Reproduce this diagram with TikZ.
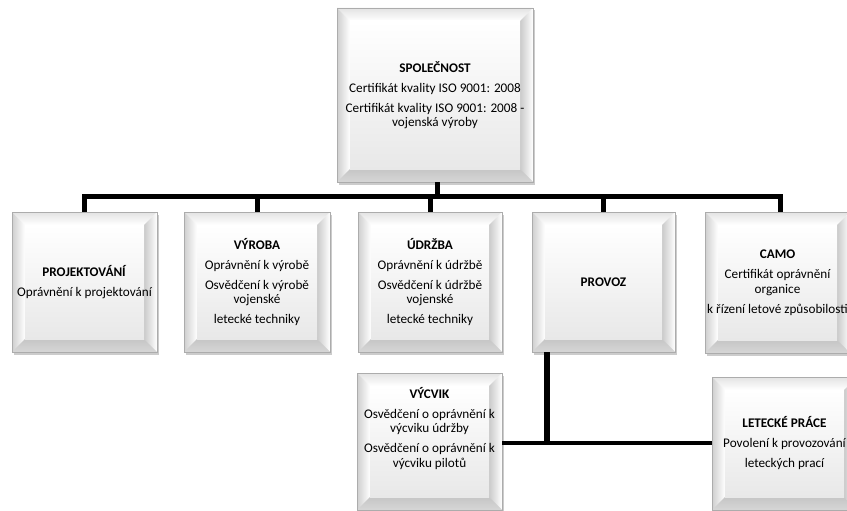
\documentclass[tikz,border=0pt]{standalone}
\usepackage{fontspec}
\setmainfont{Carlito}
\usetikzlibrary{shadows}
\tikzset{
  bevelbox/.style={
    rectangle, inner sep=2pt, align=center, draw=gray!65, line width=0.7pt,
    top color=white, bottom color=gray!28,
    font=\fontsize{13.2}{14.5}\selectfont,
    drop shadow={opacity=0.4, shadow xshift=2pt, shadow yshift=-2.5pt},
    path picture={
      \def\bw{13pt}
      \coordinate (NW) at (path picture bounding box.north west);
      \coordinate (NE) at (path picture bounding box.north east);
      \coordinate (SW) at (path picture bounding box.south west);
      \coordinate (SE) at (path picture bounding box.south east);
      \coordinate (nw) at ([shift={(\bw,-\bw)}]NW);
      \coordinate (ne) at ([shift={(-\bw,-\bw)}]NE);
      \coordinate (sw) at ([shift={(\bw,\bw)}]SW);
      \coordinate (se) at ([shift={(-\bw,\bw)}]SE);
      \shade[top color=gray!22, bottom color=white] (NW) -- (NE) -- (ne) -- (nw) -- cycle;
      \shade[left color=gray!38, right color=white] (NW) -- (nw) -- (sw) -- (SW) -- cycle;
      \shade[left color=gray!42, right color=white] (NE) -- (ne) -- (se) -- (SE) -- cycle;
      \shade[top color=gray!45, bottom color=gray!32] (SW) -- (sw) -- (se) -- (SE) -- cycle;
      \shade[top color=white, bottom color=gray!18] (nw) rectangle (se);
    }},
  busline/.style={line width=5pt, black},
  thinbus/.style={line width=4pt, black}
}
\begin{document}
\begin{tikzpicture}[x=1pt,y=-1pt]
\useasboundingbox (0,0) rectangle (847,511);
\fill[white] (0,0) rectangle (847,511);

\node[bevelbox, minimum width=196pt, minimum height=174pt] (spol) at (435,95)
  {\textbf{SPOLEČNOST}\\[5.5pt]Certifikát kvality ISO 9001: 2008\\[5.5pt]Certifikát kvality ISO 9001: 2008 -\\vojenská výroby};

\node[bevelbox, minimum width=145pt, minimum height=140pt] (proj) at (84.5,282)
  {\textbf{PROJEKTOVÁNÍ}\\[5.5pt]Oprávnění k projektování};
\node[bevelbox, minimum width=146pt, minimum height=140pt] (vyr) at (257,282)
  {\textbf{VÝROBA}\\[5.5pt]Oprávnění k výrobě\\[5.5pt]Osvědčení k výrobě\\vojenské\\[5.5pt]letecké techniky};
\node[bevelbox, minimum width=144pt, minimum height=140pt] (udr) at (430,282)
  {\textbf{ÚDRŽBA}\\[5.5pt]Oprávnění k údržbě\\[5.5pt]Osvědčení k údržbě\\vojenské\\[5.5pt]letecké techniky};
\node[bevelbox, minimum width=143pt, minimum height=140pt] (prov) at (603.5,282)
  {\textbf{PROVOZ}};
\node[bevelbox, minimum width=145pt, minimum height=141pt] (camo) at (777.5,282.5)
  {\textbf{CAMO}\\[5.5pt]Certifikát oprávnění\\organice\\[5.5pt]k řízení letové způsobilosti};

\node[bevelbox, minimum width=145pt, minimum height=137pt] (vyc) at (429.5,441.5)
  {\textbf{VÝCVIK}\\[5.5pt]Osvědčení o oprávnění k\\výcviku údržby\\[5.5pt]Osvědčení o oprávnění k\\výcviku pilotů\\[14pt]};
\node[bevelbox, minimum width=145pt, minimum height=133pt] (letp) at (784.5,443.5)
  {\textbf{LETECKÉ PRÁCE}\\[5.5pt]Povolení k provozování\\[5.5pt]leteckých prací};

\coordinate (bus) at (0,196);
\coordinate (pv) at (547,443);

\draw[busline] ([xshift=2pt]spol.south) -- ([xshift=2pt]spol.south |- bus);
\draw[busline] (proj.north) -- (proj.north |- bus) -- ([xshift=2.5pt]camo.north |- bus) -- ([xshift=2.5pt]camo.north);
\draw[busline] (vyr.north) -- (vyr.north |- bus);
\draw[busline] (udr.north) -- (udr.north |- bus);
\draw[busline] (prov.north) -- (prov.north |- bus);

\draw[line width=6pt] (prov.south -| pv) -- ([yshift=-2pt]pv);
\draw[thinbus] (vyc.east |- pv) -- (letp.west |- pv);
\end{tikzpicture}
\end{document}
